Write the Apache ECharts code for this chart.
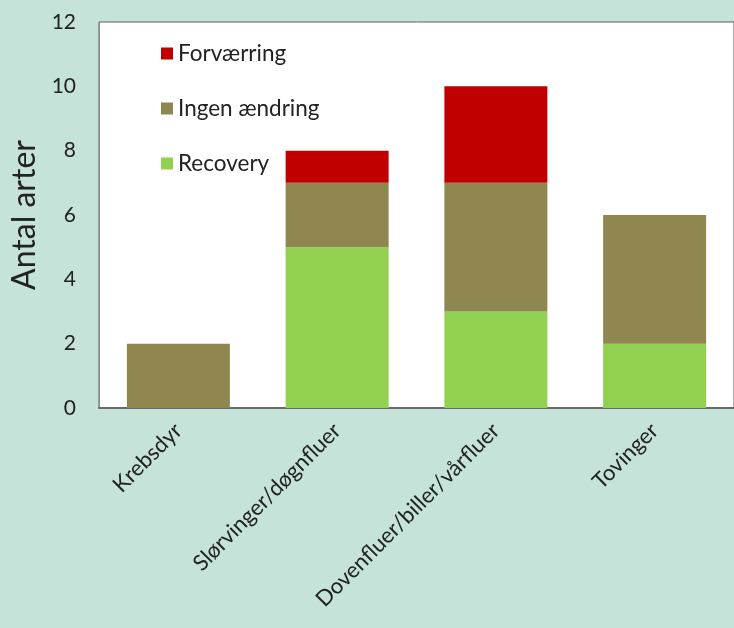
<!DOCTYPE html>
<html>
<head>
<meta charset="utf-8">
<script src="https://cdn.jsdelivr.net/npm/echarts@6/dist/echarts.min.js"></script>
<style>
  html, body { margin: 0; padding: 0; background: #c6e3d9; }
  #chart { width: 734px; height: 628px; }
</style>
</head>
<body>
<div id="chart"></div>
<script>
// Artsgrupper og antal arter pr. udviklingskategori
const categories = ['Krebsdyr', 'Slørvinger/døgnfluer', 'Dovenfluer/biller/vårfluer', 'Tovinger'];
const recovery = [0, 5, 3, 2];
const ingenAendring = [2, 2, 4, 4];
const forvaerring = [0, 1, 3, 0];
const yTicks = [0, 2, 4, 6, 8, 10, 12];

const font = 'Lato, "Open Sans", sans-serif';
const chart = echarts.init(document.getElementById('chart'));

function stackSeries(name, data, color) {
  return {
    name: name,
    type: 'bar',
    stack: 'arter',
    data: data,
    barWidth: 103,
    itemStyle: { color: color },
    emphasis: { disabled: true }
  };
}

chart.setOption({
  backgroundColor: '#c6e3d9',
  animation: false,
  grid: {
    left: 99, top: 22, right: -10, bottom: 220,
    show: true, backgroundColor: '#ffffff',
    borderColor: '#5f5f5f', borderWidth: 1
  },
  legend: {
    orient: 'vertical',
    left: 156, top: 37,
    itemWidth: 12, itemHeight: 12, itemGap: 32,
    icon: 'rect',
    textStyle: { fontFamily: font, fontSize: 22.5, lineHeight: 23, color: '#222' },
    data: ['Forværring', 'Ingen ændring', 'Recovery']
  },
  xAxis: {
    type: 'category',
    data: categories,
    axisLine: { lineStyle: { color: '#6a6a6a', width: 2 } },
    axisTick: { show: false },
    axisLabel: {
      rotate: 45, margin: 19, interval: 0,
      fontFamily: font, fontSize: 22, color: '#222'
    }
  },
  yAxis: {
    type: 'value',
    min: yTicks[0], max: yTicks[yTicks.length - 1], interval: 2,
    name: 'Antal arter',
    nameLocation: 'middle', nameGap: 58, nameRotate: 90,
    nameTextStyle: { fontFamily: font, fontSize: 32, color: '#222' },
    axisLine: { show: true, lineStyle: { color: '#8a8a8a', width: 1 } },
    axisTick: { show: false },
    splitLine: { show: false },
    axisLabel: { margin: 23, fontFamily: font, fontSize: 21, color: '#222' }
  },
  series: [
    stackSeries('Recovery', recovery, '#92d050'),
    stackSeries('Ingen ændring', ingenAendring, '#8f8650'),
    stackSeries('Forværring', forvaerring, '#c00000')
  ]
});
</script>
</body>
</html>
